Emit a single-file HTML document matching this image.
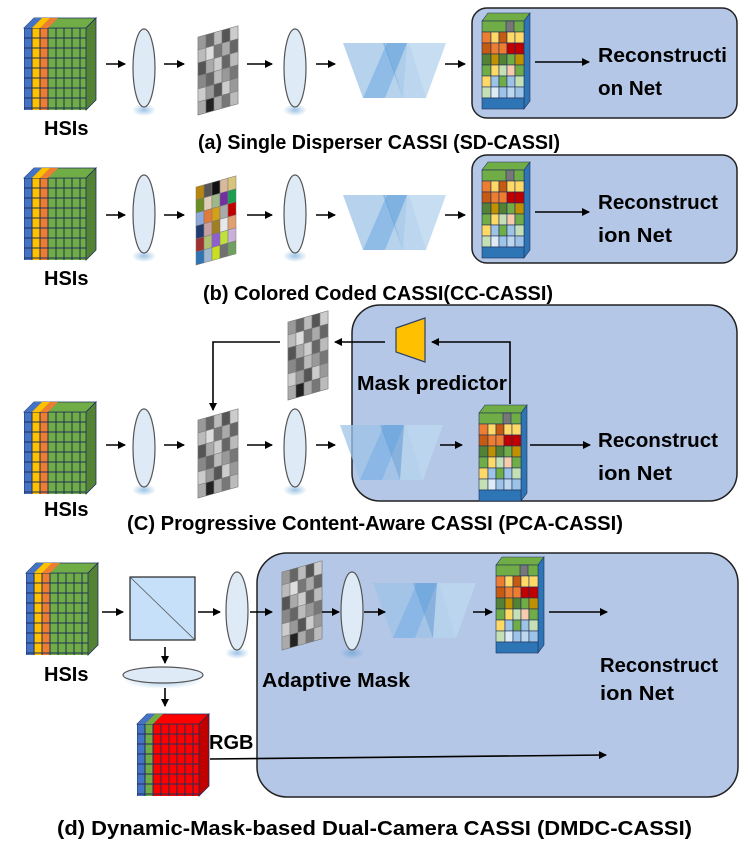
<!DOCTYPE html>
<html><head><meta charset="utf-8"><style>
body{margin:0;background:#fff;width:748px;height:847px;overflow:hidden}
text{font-family:"Liberation Sans",Arial,sans-serif;font-weight:bold;fill:#000}
</style></head><body>
<svg width="748" height="847" viewBox="0 0 748 847" xmlns="http://www.w3.org/2000/svg">
<defs>
<marker id="ar" markerWidth="8" markerHeight="8" refX="7" refY="4" orient="auto" markerUnits="userSpaceOnUse"><path d="M0,0L8,4L0,8z" fill="#000"/></marker>
<pattern id="gr" width="8" height="10" patternUnits="userSpaceOnUse"><rect width="8" height="10" fill="none" stroke="#1f2f5a" stroke-width="1"/></pattern>
<radialGradient id="glow" cx="0.5" cy="0.5" r="0.5"><stop offset="0" stop-color="#5b9bd5" stop-opacity="0.6"/><stop offset="1" stop-color="#5b9bd5" stop-opacity="0"/></radialGradient>
<g id="hsi">
 <polygon points="0,10 10,0 72,0 62,10" fill="#70ad47" stroke="#1f2f5a" stroke-width="0.8"/>
 <polygon points="0,10 10,0 18,0 8,10" fill="#4472c4"/>
 <polygon points="8,10 18,0 26,0 16,10" fill="#ffc000"/>
 <polygon points="16,10 26,0 34,0 24,10" fill="#ed7d31"/>
 <rect x="0" y="10" width="8" height="82" fill="#4472c4"/>
 <rect x="8" y="10" width="8" height="82" fill="#ffc000"/>
 <rect x="16" y="10" width="8" height="82" fill="#ed7d31"/>
 <rect x="24" y="10" width="38" height="82" fill="#70ad47"/>
 <rect x="0" y="10" width="62" height="82" fill="url(#gr)"/>
 <polygon points="62,10 72,0 72,82 62,92" fill="#548235" stroke="#1f2f5a" stroke-width="0.8"/>
</g>
<g id="rgb">
 <polygon points="0,10 10,0 72,0 62,10" fill="#ff0000" stroke="#1f2f5a" stroke-width="0.8"/>
 <polygon points="0,10 10,0 18,0 8,10" fill="#4472c4"/>
 <polygon points="8,10 18,0 26,0 16,10" fill="#70ad47"/>
 <rect x="0" y="10" width="8" height="72" fill="#4472c4"/>
 <rect x="8" y="10" width="8" height="72" fill="#70ad47"/>
 <rect x="16" y="10" width="46" height="72" fill="#ff0000"/>
 <rect x="0" y="10" width="62" height="72" fill="url(#gr)"/>
 <polygon points="62,10 72,0 72,72 62,82" fill="#c00000" stroke="#1f2f5a" stroke-width="0.8"/>
</g>
<g id="lens">
 <ellipse cx="0" cy="42" rx="12" ry="6" fill="url(#glow)"/>
 <ellipse cx="0" cy="0" rx="11" ry="39" fill="#deebf7" stroke="#555" stroke-width="1.2"/>
</g>
<g id="mask" transform="matrix(1,-0.28,0,1,0,12)" stroke="#777" stroke-width="0.5">
 <rect x="0" y="0" width="40" height="78" fill="#aaa"/>
 <rect x="0" y="0" width="8" height="13" fill="#999"/><rect x="8" y="0" width="8" height="13" fill="#666"/><rect x="16" y="0" width="8" height="13" fill="#bbb"/><rect x="24" y="0" width="8" height="13" fill="#555"/><rect x="32" y="0" width="8" height="13" fill="#ccc"/>
 <rect x="0" y="13" width="8" height="13" fill="#bbb"/><rect x="8" y="13" width="8" height="13" fill="#ddd"/><rect x="16" y="13" width="8" height="13" fill="#777"/><rect x="24" y="13" width="8" height="13" fill="#aaa"/><rect x="32" y="13" width="8" height="13" fill="#666"/>
 <rect x="0" y="26" width="8" height="13" fill="#555"/><rect x="8" y="26" width="8" height="13" fill="#aaa"/><rect x="16" y="26" width="8" height="13" fill="#ccc"/><rect x="24" y="26" width="8" height="13" fill="#666"/><rect x="32" y="26" width="8" height="13" fill="#bbb"/>
 <rect x="0" y="39" width="8" height="13" fill="#888"/><rect x="8" y="39" width="8" height="13" fill="#666"/><rect x="16" y="39" width="8" height="13" fill="#bbb"/><rect x="24" y="39" width="8" height="13" fill="#999"/><rect x="32" y="39" width="8" height="13" fill="#777"/>
 <rect x="0" y="52" width="8" height="13" fill="#ccc"/><rect x="8" y="52" width="8" height="13" fill="#999"/><rect x="16" y="52" width="8" height="13" fill="#555"/><rect x="24" y="52" width="8" height="13" fill="#ccc"/><rect x="32" y="52" width="8" height="13" fill="#999"/>
 <rect x="0" y="65" width="8" height="13" fill="#aaa"/><rect x="8" y="65" width="8" height="13" fill="#222"/><rect x="16" y="65" width="8" height="13" fill="#aaa"/><rect x="24" y="65" width="8" height="13" fill="#777"/><rect x="32" y="65" width="8" height="13" fill="#bbb"/>
</g>
<g id="cmask" transform="matrix(1,-0.28,0,1,0,12)" stroke="#777" stroke-width="0.5">
 <rect x="0" y="0" width="8" height="13" fill="#b8860b"/><rect x="8" y="0" width="8" height="13" fill="#555"/><rect x="16" y="0" width="8" height="13" fill="#111"/><rect x="24" y="0" width="8" height="13" fill="#d9b99b"/><rect x="32" y="0" width="8" height="13" fill="#d8c47a"/>
 <rect x="0" y="13" width="8" height="13" fill="#6b8e23"/><rect x="8" y="13" width="8" height="13" fill="#e0cdb5"/><rect x="16" y="13" width="8" height="13" fill="#9fb88a"/><rect x="24" y="13" width="8" height="13" fill="#7030a0"/><rect x="32" y="13" width="8" height="13" fill="#1a9e50"/>
 <rect x="0" y="26" width="8" height="13" fill="#8ea9db"/><rect x="8" y="26" width="8" height="13" fill="#e07b39"/><rect x="16" y="26" width="8" height="13" fill="#d4a017"/><rect x="24" y="26" width="8" height="13" fill="#aaa"/><rect x="32" y="26" width="8" height="13" fill="#c00000"/>
 <rect x="0" y="39" width="8" height="13" fill="#1f3b70"/><rect x="8" y="39" width="8" height="13" fill="#c9a0a0"/><rect x="16" y="39" width="8" height="13" fill="#a08020"/><rect x="24" y="39" width="8" height="13" fill="#e8e8e8"/><rect x="32" y="39" width="8" height="13" fill="#e0a070"/>
 <rect x="0" y="52" width="8" height="13" fill="#a03030"/><rect x="8" y="52" width="8" height="13" fill="#b0c070"/><rect x="16" y="52" width="8" height="13" fill="#9060d0"/><rect x="24" y="52" width="8" height="13" fill="#c0e040"/><rect x="32" y="52" width="8" height="13" fill="#c8b0d8"/>
 <rect x="0" y="65" width="8" height="13" fill="#2e75b6"/><rect x="8" y="65" width="8" height="13" fill="#a0b8d0"/><rect x="16" y="65" width="8" height="13" fill="#c8e020"/><rect x="24" y="65" width="8" height="13" fill="#707070"/><rect x="32" y="65" width="8" height="13" fill="#70a060"/>
</g>
<g id="disp">
 <polygon points="0,0 42,0 60,55 20,55" fill="#9dc3e6" opacity="0.75"/>
 <polygon points="44,0 64,0 42,55 20,55" fill="#7fb2e5" opacity="0.7"/>
 <polygon points="40,0 66,0 83,55 60,55" fill="#5b9bd5" opacity="0.5"/>
 <polygon points="64,0 103,0 83,55 60,55" fill="#bdd7ee" opacity="0.85"/>
</g>
<g id="spec">
 <polygon points="0,8 6,0 48,0 42,8" fill="#70ad47" stroke="#1f2f5a" stroke-width="0.6"/>
 <polygon points="42,8 48,0 48,88 42,96" fill="#2e75b6" stroke="#1f2f5a" stroke-width="0.6"/>
 <g stroke="#1f2f5a" stroke-width="0.6">
 <rect x="0" y="8" width="42" height="11" fill="#70ad47"/><rect x="24" y="8" width="8" height="11" fill="#777"/>
 <rect x="0" y="19" width="9" height="11" fill="#ed7d31"/><rect x="9" y="19" width="8" height="11" fill="#ffd966"/><rect x="17" y="19" width="8" height="11" fill="#c55a11"/><rect x="25" y="19" width="8" height="11" fill="#ffd966"/><rect x="33" y="19" width="9" height="11" fill="#ffd966"/>
 <rect x="0" y="30" width="9" height="11" fill="#c55a11"/><rect x="9" y="30" width="8" height="11" fill="#ed7d31"/><rect x="17" y="30" width="8" height="11" fill="#ed7d31"/><rect x="25" y="30" width="8" height="11" fill="#c00000"/><rect x="33" y="30" width="9" height="11" fill="#c00000"/>
 <rect x="0" y="41" width="9" height="11" fill="#548235"/><rect x="9" y="41" width="8" height="11" fill="#bf9000"/><rect x="17" y="41" width="8" height="11" fill="#548235"/><rect x="25" y="41" width="8" height="11" fill="#70ad47"/><rect x="33" y="41" width="9" height="11" fill="#bf9000"/>
 <rect x="0" y="52" width="9" height="11" fill="#70ad47"/><rect x="9" y="52" width="8" height="11" fill="#ffd966"/><rect x="17" y="52" width="8" height="11" fill="#c5e0b4"/><rect x="25" y="52" width="8" height="11" fill="#f8cbad"/><rect x="33" y="52" width="9" height="11" fill="#70ad47"/>
 <rect x="0" y="63" width="9" height="11" fill="#ffd966"/><rect x="9" y="63" width="8" height="11" fill="#9dc3e6"/><rect x="17" y="63" width="8" height="11" fill="#70ad47"/><rect x="25" y="63" width="8" height="11" fill="#9dc3e6"/><rect x="33" y="63" width="9" height="11" fill="#c5e0b4"/>
 <rect x="0" y="74" width="9" height="11" fill="#c5e0b4"/><rect x="9" y="74" width="8" height="11" fill="#deebf7"/><rect x="17" y="74" width="8" height="11" fill="#9dc3e6"/><rect x="25" y="74" width="8" height="11" fill="#bdd7ee"/><rect x="33" y="74" width="9" height="11" fill="#9dc3e6"/>
 <rect x="0" y="85" width="42" height="11" fill="#2e75b6"/>
 </g>
</g>
</defs>

<g stroke="#222" stroke-width="1.5">
<rect x="472" y="8" width="265" height="110" rx="15" fill="#b4c7e7"/>
<rect x="472" y="155" width="265" height="108" rx="15" fill="#b4c7e7"/>
<rect x="352" y="305" width="385" height="196" rx="28" fill="#b4c7e7"/>
<rect x="257" y="553" width="481" height="244" rx="30" fill="#b4c7e7"/>
</g>

<use href="#hsi" x="24" y="18"/>
<use href="#lens" x="144" y="68"/>
<use href="#mask" x="198" y="25"/>
<use href="#lens" x="295" y="68"/>
<use href="#disp" x="343" y="43"/>
<use href="#spec" x="482" y="13"/>

<use href="#hsi" x="24" y="168"/>
<use href="#lens" x="144" y="214"/>
<use href="#cmask" x="196" y="175"/>
<use href="#lens" x="295" y="214"/>
<use href="#disp" x="343" y="195"/>
<use href="#spec" x="482" y="162"/>

<use href="#hsi" x="24" y="402"/>
<use href="#lens" x="144" y="448"/>
<use href="#mask" x="198" y="408"/>
<use href="#mask" x="288" y="310"/>
<use href="#lens" x="295" y="448"/>
<use href="#disp" x="340" y="425"/>
<use href="#spec" x="479" y="405"/>
<polygon points="396,328 425,318 425,362 396,352" fill="#ffc000" stroke="#2f3f6f" stroke-width="1.2"/>

<use href="#hsi" x="26" y="563"/>
<rect x="130" y="577" width="65" height="63" fill="#c5e0f8" stroke="#222" stroke-width="1.2"/>
<line x1="130" y1="577" x2="195" y2="640" stroke="#555" stroke-width="0.8"/>
<use href="#lens" x="237" y="611"/>
<use href="#mask" x="282" y="560"/>
<use href="#lens" x="352" y="611"/>
<use href="#disp" x="373" y="583"/>
<use href="#spec" x="496" y="557"/>
<ellipse cx="163" cy="680" rx="40" ry="9" fill="url(#glow)"/>
<ellipse cx="163" cy="675" rx="40" ry="8" fill="#deebf7" stroke="#555" stroke-width="1.2"/>
<use href="#rgb" x="137" y="714"/>

<g stroke="#000" stroke-width="1.6" fill="none" marker-end="url(#ar)">
<line x1="106" y1="64" x2="125" y2="64"/><line x1="164" y1="64" x2="184" y2="64"/><line x1="247" y1="64" x2="272" y2="64"/><line x1="316" y1="64" x2="335" y2="64"/><line x1="445" y1="64" x2="465" y2="64"/><line x1="535" y1="62" x2="589" y2="62"/>
<line x1="106" y1="215" x2="125" y2="215"/><line x1="164" y1="215" x2="184" y2="215"/><line x1="247" y1="215" x2="272" y2="215"/><line x1="316" y1="215" x2="335" y2="215"/><line x1="445" y1="215" x2="465" y2="215"/><line x1="535" y1="212" x2="589" y2="212"/>
<line x1="106" y1="445" x2="125" y2="445"/><line x1="164" y1="445" x2="184" y2="445"/><line x1="247" y1="445" x2="272" y2="445"/><line x1="316" y1="445" x2="335" y2="445"/><line x1="440" y1="445" x2="462" y2="445"/>
<line x1="385" y1="342" x2="335" y2="342"/>
<polyline points="510,404 510,342 432,342"/>
<polyline points="280,342 213,342 213,410"/>
<line x1="102" y1="612" x2="123" y2="612"/><line x1="198" y1="612" x2="220" y2="612"/><line x1="250" y1="612" x2="272" y2="612"/><line x1="322" y1="612" x2="339" y2="612"/><line x1="364" y1="612" x2="385" y2="612"/><line x1="473" y1="612" x2="492" y2="612"/><line x1="549" y1="612" x2="607" y2="612"/>
<line x1="165" y1="647" x2="165" y2="663"/><line x1="165" y1="688" x2="165" y2="706"/>
<line x1="210" y1="759" x2="606" y2="755"/>
<line x1="530" y1="445" x2="590" y2="445"/>
</g>

<g font-size="20">
<text x="598" y="62" textLength="129" lengthAdjust="spacingAndGlyphs">Reconstructi</text>
<text x="598" y="95" textLength="64" lengthAdjust="spacingAndGlyphs">on Net</text>
<text x="598" y="209" textLength="120" lengthAdjust="spacingAndGlyphs">Reconstruct</text>
<text x="598" y="242" textLength="74" lengthAdjust="spacingAndGlyphs">ion Net</text>
<text x="598" y="447" textLength="120" lengthAdjust="spacingAndGlyphs">Reconstruct</text>
<text x="598" y="480" textLength="74" lengthAdjust="spacingAndGlyphs">ion Net</text>
<text x="600" y="672" textLength="118" lengthAdjust="spacingAndGlyphs">Reconstruct</text>
<text x="600" y="700" textLength="74" lengthAdjust="spacingAndGlyphs">ion Net</text>
<text x="357" y="390" textLength="150" lengthAdjust="spacingAndGlyphs">Mask predictor</text>
<text x="262" y="687" textLength="148" lengthAdjust="spacingAndGlyphs">Adaptive Mask</text>
<text x="209" y="749">RGB</text>
<text x="44" y="135">HSIs</text>
<text x="44" y="285">HSIs</text>
<text x="44" y="516">HSIs</text>
<text x="44" y="681">HSIs</text>
<text x="198" y="149" textLength="362" lengthAdjust="spacingAndGlyphs">(a) Single Disperser CASSI (SD-CASSI)</text>
<text x="203" y="300" textLength="350" lengthAdjust="spacingAndGlyphs">(b) Colored Coded CASSI(CC-CASSI)</text>
<text x="127" y="530" textLength="496" lengthAdjust="spacingAndGlyphs">(C) Progressive Content-Aware CASSI (PCA-CASSI)</text>
<text x="57" y="835" textLength="635" lengthAdjust="spacingAndGlyphs">(d) Dynamic-Mask-based Dual-Camera CASSI (DMDC-CASSI)</text>
</g>
</svg>
</body></html>
